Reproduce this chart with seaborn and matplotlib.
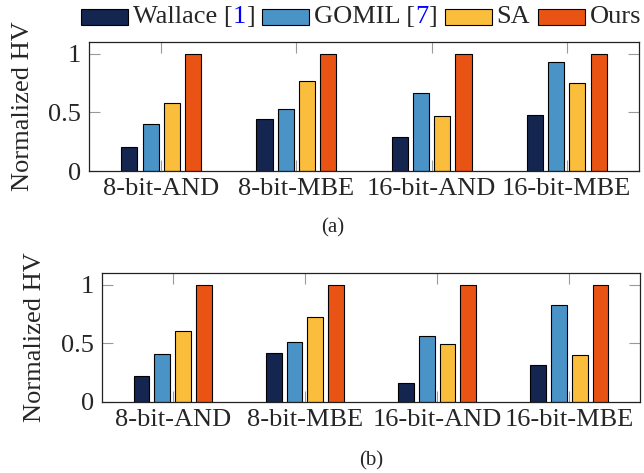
import matplotlib
matplotlib.use("Agg")
import matplotlib.pyplot as plt
import pandas as pd
import seaborn as sns
from matplotlib.offsetbox import AnchoredOffsetbox, DrawingArea, HPacker, TextArea
from matplotlib.patches import Rectangle

benchmarks = ["8-bit-AND", "8-bit-MBE", "16-bit-AND", "16-bit-MBE"]
methods = ["Wallace", "GOMIL", "SA", "Ours"]
refs = {"Wallace": "1", "GOMIL": "7"}  # citation numbers shown in blue

# subplot (a)
hv_a_wallace = [0.205, 0.44, 0.293, 0.476]
hv_a_gomil = [0.40, 0.531, 0.662, 0.926]
hv_a_sa = [0.58, 0.77, 0.469, 0.752]
hv_a_ours = [1.0, 1.0, 1.0, 1.0]

# subplot (b)
hv_b_wallace = [0.219, 0.418, 0.159, 0.312]
hv_b_gomil = [0.412, 0.515, 0.565, 0.827]
hv_b_sa = [0.605, 0.727, 0.491, 0.405]
hv_b_ours = [1.0, 1.0, 1.0, 1.0]

colors = ["#14264f", "#4a93c6", "#fbbe3c", "#e95414"]


def to_long(*series):
    rows = []
    for m, vals in zip(methods, series):
        for b, v in zip(benchmarks, vals):
            rows.append({"bench": b, "method": m, "hv": v})
    return pd.DataFrame(rows)


df_a = to_long(hv_a_wallace, hv_a_gomil, hv_a_sa, hv_a_ours)
df_b = to_long(hv_b_wallace, hv_b_gomil, hv_b_sa, hv_b_ours)

sns.set_style("ticks")
plt.rcParams["font.family"] = ["Liberation Serif", "DejaVu Serif"]
fs = 19

fig = plt.figure(figsize=(6.44, 4.73), dpi=100)
ax_a = fig.add_axes([89 / 644, 1 - 171 / 473, 550 / 644, 129 / 473])
ax_b = fig.add_axes([102 / 644, 1 - 402 / 473, 538 / 644, 129 / 473])

for ax, df in [(ax_a, df_a), (ax_b, df_b)]:
    sns.barplot(data=df, x="bench", y="hv", hue="method", order=benchmarks,
                hue_order=methods, palette=colors, saturation=1, width=0.63,
                gap=0.24, edgecolor="black", linewidth=0.8, errorbar=None,
                legend=False, ax=ax)
    ax.set_xlim(-0.535, 3.535)
    ax.set_ylim(0, 1.1)
    ax.set_yticks([0, 0.5, 1])
    ax.set_yticklabels(["0", "0.5", "1"])
    ax.set_xlabel("")
    ax.set_ylabel("Normalized HV", fontsize=fs)
    ax.tick_params(axis="both", direction="in", length=8, width=0.8,
                   color="#999999", labelsize=fs, top=True, right=True)
    ax.tick_params(axis="x", pad=5)
    ax.tick_params(axis="y", pad=6)
    for s in ax.spines.values():
        s.set_color("#222222")
        s.set_linewidth(0.9)

ax_a.yaxis.set_label_coords(-0.1, 0.5)
ax_b.yaxis.set_label_coords(-0.104, 0.5)

# legend with coloured citation numbers
entries = []
for m, c in zip(methods, colors):
    da = DrawingArea(34, 11.5, 0, 0)
    da.add_artist(Rectangle((0, 0), 34, 11.5, facecolor=c, edgecolor="black", linewidth=0.8))
    if m in refs:
        parts = [TextArea(m + " [", textprops=dict(size=fs)),
                 TextArea(refs[m], textprops=dict(size=fs, color="blue")),
                 TextArea("]", textprops=dict(size=fs))]
    else:
        parts = [TextArea(m, textprops=dict(size=fs))]
    label = HPacker(children=parts, sep=0, pad=0, align="baseline")
    entries.append(HPacker(children=[da, label], sep=3.6, pad=0, align="center"))
box = HPacker(children=entries, sep=5.2, pad=0, align="center")
anchored = AnchoredOffsetbox(loc="center left", child=box, pad=0, borderpad=0,
                             frameon=False, bbox_to_anchor=(81 / 644, 1 - 17 / 473),
                             bbox_transform=fig.transFigure)
fig.add_artist(anchored)

fig.text(333 / 644, 1 - 228 / 473, "(a)", ha="center", va="center", fontsize=15)
fig.text(371 / 644, 1 - 461 / 473, "(b)", ha="center", va="center", fontsize=15)

fig.savefig("out.png", dpi=100)
